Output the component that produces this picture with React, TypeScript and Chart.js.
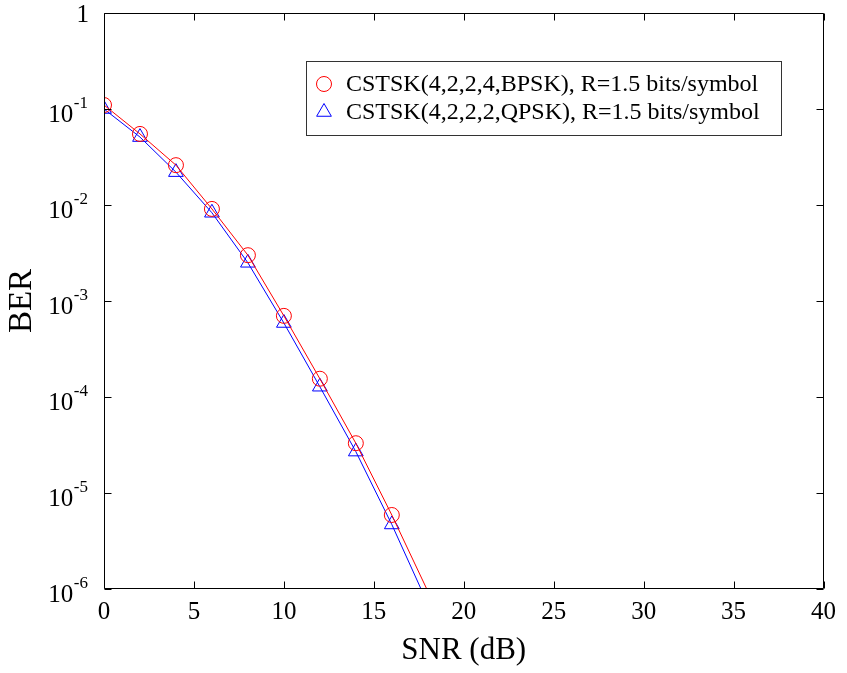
import React, { useEffect, useRef } from 'react';
import { Chart, registerables } from 'chart.js';

Chart.register(...registerables);

// ---------- data ----------
const snrDb = [0, 2, 4, 6, 8, 10, 12, 14, 16, 18];
const berBpsk = [0.11, 0.055, 0.026, 0.0091, 0.003, 7.0e-4, 1.55e-4, 3.3e-5, 5.9e-6, 9.5e-7];
const berQpsk = [0.1, 0.051, 0.022, 0.0083, 0.0025, 5.9e-4, 1.28e-4, 2.7e-5, 4.7e-6, 7.0e-7];
const seriesLabels = [
  'CSTSK(4,2,2,4,BPSK), R=1.5 bits/symbol',
  'CSTSK(4,2,2,2,QPSK), R=1.5 bits/symbol',
];
const xTickValues = [0, 5, 10, 15, 20, 25, 30, 35, 40];
const yDecadeExponents = [-6, -5, -4, -3, -2, -1, 0];
const xTitle = 'SNR (dB)';
const yTitle = 'BER';

const X_MIN = 0;
const X_MAX = 40;
const Y_MIN = 1e-6;
const Y_MAX = 1;

const FONT = "'Liberation Serif', 'Times New Roman', Times, serif";

function drawMarker(ctx: CanvasRenderingContext2D, style: string, x: number, y: number, r: number) {
  ctx.beginPath();
  if (style === 'triangle') {
    let rad = 0;
    ctx.moveTo(x + Math.sin(rad) * r, y - Math.cos(rad) * r);
    rad += (2 * Math.PI) / 3;
    ctx.lineTo(x + Math.sin(rad) * r, y - Math.cos(rad) * r);
    rad += (2 * Math.PI) / 3;
    ctx.lineTo(x + Math.sin(rad) * r, y - Math.cos(rad) * r);
    ctx.closePath();
  } else {
    ctx.arc(x, y, r, 0, Math.PI * 2);
  }
  ctx.stroke();
}

const framePlugin = {
  id: 'matlabFrame',
  afterDraw(chart: any) {
    const { ctx, chartArea } = chart;
    const xs = chart.scales.x;
    const ys = chart.scales.y;
    const L = Math.round(chartArea.left) + 0.5;
    const R = Math.round(chartArea.right) - 0.5;
    const T = Math.round(chartArea.top) + 0.5;
    const B = Math.round(chartArea.bottom) - 0.5;
    const tickLen = 7;

    ctx.save();
    // frame
    ctx.strokeStyle = '#000';
    ctx.lineWidth = 1;
    ctx.beginPath();
    ctx.rect(L, T, R - L, B - T);
    ctx.stroke();

    // ticks
    ctx.beginPath();
    xs.ticks.forEach((t: any) => {
      const px = Math.round(xs.getPixelForValue(t.value)) + 0.5;
      ctx.moveTo(px, B);
      ctx.lineTo(px, B - tickLen);
      ctx.moveTo(px, T);
      ctx.lineTo(px, T + tickLen);
    });
    ys.ticks.forEach((t: any) => {
      const py = Math.round(ys.getPixelForValue(t.value)) + 0.5;
      ctx.moveTo(L, py);
      ctx.lineTo(L + tickLen, py);
      ctx.moveTo(R, py);
      ctx.lineTo(R - tickLen, py);
    });
    ctx.stroke();

    // y tick labels with superscript exponents
    ctx.fillStyle = '#000';
    const labelRight = chartArea.left - 16;
    ys.ticks.forEach((t: any) => {
      const py = ys.getPixelForValue(t.value);
      const k = Math.round(Math.log10(t.value));
      if (k === 0) {
        ctx.font = `25px ${FONT}`;
        ctx.textAlign = 'right';
        ctx.textBaseline = 'alphabetic';
        ctx.fillText('1', labelRight + 1, py + 9);
      } else {
        const exp = String(k);
        ctx.font = `17px ${FONT}`;
        const ew = ctx.measureText(exp).width;
        ctx.textAlign = 'left';
        ctx.textBaseline = 'alphabetic';
        ctx.fillText(exp, labelRight - ew, py - 1);
        ctx.font = `25px ${FONT}`;
        ctx.textAlign = 'right';
        ctx.fillText('10', labelRight - ew - 0.5, py + 13);
      }
    });

    // legend
    ctx.font = `24px ${FONT}`;
    const datasets = chart.data.datasets;
    const maxW = Math.max(...datasets.map((d: any) => ctx.measureText(d.label).width));
    const boxRight = Math.round(chartArea.right) - 43;
    const boxTop = Math.round(chartArea.top) + 48;
    const boxW = 40 + maxW + 21;
    const boxH = 74;
    const boxLeft = Math.round(boxRight - boxW);
    ctx.fillStyle = '#fff';
    ctx.fillRect(boxLeft, boxTop, boxRight - boxLeft, boxH);
    ctx.strokeStyle = '#333';
    ctx.lineWidth = 1;
    ctx.strokeRect(boxLeft + 0.5, boxTop + 0.5, boxRight - boxLeft, boxH);
    datasets.forEach((d: any, i: number) => {
      const cy = boxTop + 23 + i * 28;
      ctx.strokeStyle = d.borderColor;
      ctx.lineWidth = 1;
      drawMarker(ctx, d.pointStyle, boxLeft + 18, cy, d.pointStyle === 'triangle' ? 8.5 : 7.5);
      ctx.fillStyle = '#000';
      ctx.textAlign = 'left';
      ctx.textBaseline = 'middle';
      ctx.fillText(d.label, boxLeft + 40, cy + 1);
    });
    ctx.restore();
  },
};

export default function App() {
  const canvasRef = useRef<HTMLCanvasElement | null>(null);

  useEffect(() => {
    if (!canvasRef.current) return;
    const visibleRadius = (r: number) => (c: any) => (c.raw && c.raw.y < Y_MIN ? 0 : r);
    const chart = new Chart(canvasRef.current, {
      type: 'line',
      data: {
        datasets: [
          {
            label: seriesLabels[0],
            data: snrDb.map((x, i) => ({ x, y: berBpsk[i] })),
            borderColor: '#ff0000',
            backgroundColor: 'rgba(0,0,0,0)',
            pointBackgroundColor: 'rgba(0,0,0,0)',
            pointBorderColor: '#ff0000',
            borderWidth: 1,
            pointBorderWidth: 1,
            pointStyle: 'circle',
            pointRadius: visibleRadius(7.5),
            tension: 0,
          },
          {
            label: seriesLabels[1],
            data: snrDb.map((x, i) => ({ x, y: berQpsk[i] })),
            borderColor: '#0000ff',
            backgroundColor: 'rgba(0,0,0,0)',
            pointBackgroundColor: 'rgba(0,0,0,0)',
            pointBorderColor: '#0000ff',
            borderWidth: 1,
            pointBorderWidth: 1,
            pointStyle: 'triangle',
            pointRadius: visibleRadius(8.5),
            tension: 0,
          },
        ],
      },
      options: {
        responsive: false,
        animation: false,
        devicePixelRatio: 1,
        events: [],
        layout: { padding: { left: 0, right: 21, top: 13, bottom: 0 } },
        plugins: {
          legend: { display: false },
          tooltip: { enabled: false },
        },
        scales: {
          x: {
            type: 'linear',
            min: X_MIN,
            max: X_MAX,
            grid: { display: false, drawTicks: false },
            border: { display: false },
            afterBuildTicks: (s: any) => {
              s.ticks = xTickValues.map((v) => ({ value: v }));
            },
            afterFit: (s: any) => {
              s.height = 84;
            },
            ticks: {
              autoSkip: false,
              maxRotation: 0,
              color: '#000',
              padding: 11,
              font: { family: FONT, size: 25, lineHeight: 1 },
            },
            title: {
              display: true,
              text: xTitle,
              color: '#000',
              font: { family: FONT, size: 31, lineHeight: 1 },
              padding: { top: 0, bottom: 7 },
            },
          },
          y: {
            type: 'logarithmic',
            min: Y_MIN,
            max: Y_MAX,
            grid: { display: false, drawTicks: false },
            border: { display: false },
            afterBuildTicks: (s: any) => {
              s.ticks = yDecadeExponents.map((k) => ({ value: Math.pow(10, k) }));
            },
            afterFit: (s: any) => {
              s.width = 104;
            },
            ticks: { display: false },
            title: {
              display: true,
              text: yTitle,
              color: '#000',
              font: { family: FONT, size: 33, lineHeight: 1 },
              padding: { top: 6, bottom: 0 },
            },
          },
        },
      },
      plugins: [framePlugin],
    } as any);
    return () => chart.destroy();
  }, []);

  return (
    <div style={{ position: 'absolute', left: 0, top: 0, width: 847, height: 673, background: '#fff' }}>
      <canvas ref={canvasRef} width={847} height={673} style={{ display: 'block' }} />
    </div>
  );
}
